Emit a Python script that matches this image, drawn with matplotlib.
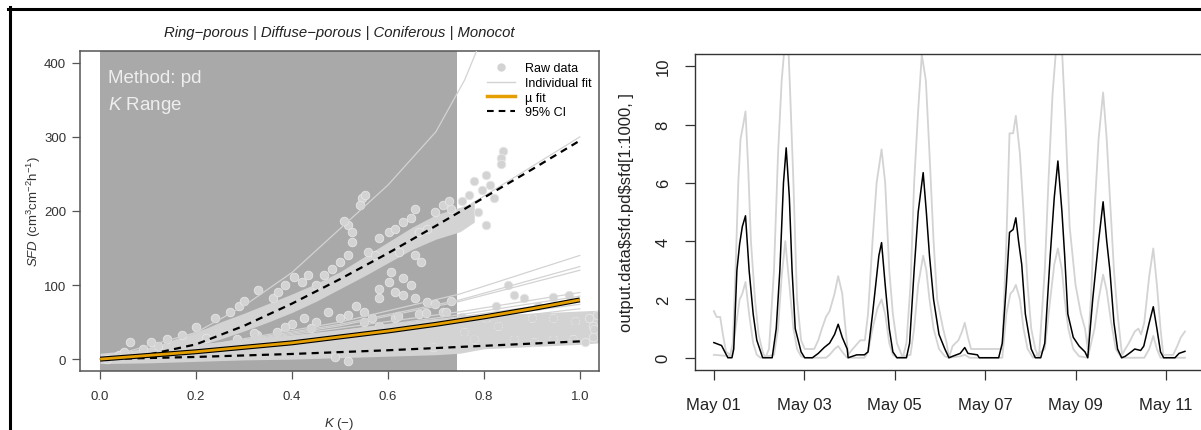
import numpy as np
import matplotlib
matplotlib.use("Agg")
import matplotlib.pyplot as plt
import matplotlib.dates as mdates
from matplotlib.lines import Line2D

plt.rcParams['font.family'] = ['Liberation Sans', 'DejaVu Sans']
plt.rcParams['mathtext.fontset'] = 'custom'
plt.rcParams['mathtext.rm'] = 'Liberation Sans'
plt.rcParams['mathtext.it'] = 'Liberation Sans:italic'

# ---------------- left panel data ----------------
title_text = "Ring\u2212porous | Diffuse\u2212porous | Coniferous | Monocot"
k_range_end = 0.745

# dense raw-data bands (edges)
lb_K = [0, 0.1, 0.2, 0.3, 0.4, 0.5, 0.6, 0.7, 0.75, 0.8, 0.9, 1.0, 1.04]
lb_lo = [-6, -5, -3, -1, 0, 2, 4, 6, 8, 14, 17, 20, 22]
lb_hi = [8, 14, 20, 27, 33, 40, 48, 55, 58, 60, 62, 65, 66]

ub_K = [0.03, 0.1, 0.15, 0.2, 0.25, 0.3, 0.35, 0.4, 0.45, 0.5, 0.55, 0.6, 0.65, 0.7, 0.75, 0.78]
ub_lo = [0, 4, 10, 17, 27, 38, 50, 63, 78, 95, 112, 130, 148, 162, 172, 185]
ub_hi = [6, 16, 25, 36, 50, 62, 75, 88, 102, 118, 138, 158, 178, 195, 205, 212]

# individual raw points
raw_K = [0.014, 0.04, 0.063, 0.105, 0.14, 0.17, 0.2, 0.24, 0.27, 0.29, 0.30, 0.33,
         0.36, 0.37, 0.385, 0.405, 0.42, 0.434, 0.45, 0.467, 0.483, 0.5, 0.516, 0.525,
         0.516, 0.525, 0.508, 0.545, 0.553, 0.541, 0.558, 0.574, 0.582, 0.603, 0.615,
         0.632, 0.648, 0.657, 0.665, 0.681, 0.698, 0.714, 0.727, 0.731, 0.755, 0.768,
         0.78, 0.805, 0.797, 0.813, 0.821, 0.84, 0.836, 0.836, 0.788, 0.805,
         0.582, 0.603, 0.607, 0.582, 0.615, 0.632, 0.657, 0.681, 0.698, 0.731, 0.648,
         0.632, 0.624, 0.669, 0.657, 0.533, 0.55, 0.516, 0.566, 0.582, 0.615, 0.665,
         0.714, 0.755, 0.475, 0.5, 0.45, 0.426, 0.401, 0.385, 0.368, 0.327, 0.286,
         0.694, 0.49, 0.516,
         0.83, 0.85, 0.862, 0.883, 0.912, 0.945, 0.978, 0.825, 0.805, 0.759, 0.78,
         0.862, 0.904, 0.945, 0.986, 1.01, 1.027, 1.035, 1.02, 1.027, 1.03, 0.9,
         0.945, 0.99, 0.12, 0.22, 0.32, 0.44, 0.55, 0.62, 0.68, 0.72, 0.05, 0.09]
raw_SFD = [0, 5, 23, 23, 27, 32, 43, 55, 64, 72, 79, 94,
           82, 90, 100, 111, 104, 113, 100, 113, 122, 131, 140, 158,
           181, 172, 187, 217, 221, 208, 145, 140, 163, 172, 176,
           185, 190, 203, 172, 176, 199, 208, 214, 203, 214, 221,
           241, 248, 228, 235, 217, 281, 271, 264, 199, 181,
           95, 104, 118, 82, 90, 86, 82, 77, 75, 79, 100,
           109, 145, 131, 140, 72, 64, 59, 55, 45, 55, 61,
           64, 57, 64, 55, 50, 55, 48, 43, 36, 32, 27,
           16, 3, -2,
           45, 100, 86, 82, 72, 84, 86, 72, 55, 36, 27,
           27, 23, 27, 27, 23, 30, 59, 55, 45, 41, 55,
           55, 52, 18, 28, 35, 42, 50, 58, 62, 64, 10, 14]

# individual fits
fit_K = [0, 0.25, 0.5, 0.75, 1.0]
fit_curves = [
    [0, 4, 9, 15, 22],
    [0, 5, 11, 18, 26],
    [0, 6, 13, 21, 30],
    [0, 7, 15, 24, 34],
    [0, 8, 17, 27, 38],
    [0, 9, 19, 30, 42],
    [0, 10, 21, 33, 46],
    [0, 11, 23, 36, 50],
    [0, 12, 25, 39, 54],
    [0, 13, 27, 42, 58],
    [0, 14, 29, 45, 62],
    [0, 15, 31, 49, 68],
    [0, 16, 34, 53, 74],
    [0, 17, 36, 57, 80],
    [0, 18, 38, 60, 85],
    [0, 20, 42, 64, 90],
    [0, 20, 45, 78, 120],
    [0, 21, 47, 80, 125],
    [0, 22, 50, 88, 140],
    [0, 45, 112, 200, 300],
]
steep_K = [0, 0.1, 0.2, 0.3, 0.4, 0.5, 0.6, 0.7, 0.76, 0.8]
steep_SFD = [0, 12, 36, 72, 117, 176, 235, 307, 377, 440]

# mean fit and CI
mu_K = [0, 0.1, 0.2, 0.3, 0.4, 0.5, 0.6, 0.7, 0.8, 0.9, 1.0]
mu_SFD = [0, 5, 10, 16, 22, 30, 38, 47, 57, 68, 80]
ci_hi = [0, 6, 20, 45, 75, 108, 143, 180, 218, 256, 295]
ci_lo = [0, 1.5, 3, 5, 7, 9.5, 12, 15, 18, 21, 24]

# ---------------- right panel data ----------------
black_days = [0.00, 0.17, 0.31, 0.40, 0.44, 0.51, 0.57, 0.63, 0.70, 0.78, 0.87, 0.95, 1.08,
              1.29, 1.38, 1.46, 1.54, 1.60, 1.67, 1.73, 1.80, 1.93, 2.01,
              2.18, 2.31, 2.44, 2.56, 2.67, 2.75, 2.84, 2.95, 2.97,
              3.16, 3.33, 3.41, 3.51, 3.58, 3.65, 3.71, 3.79, 3.88, 3.96, 4.05,
              4.26, 4.33, 4.43, 4.52, 4.63, 4.70, 4.77, 4.86, 4.98, 5.11, 5.20,
              5.28, 5.45, 5.55, 5.62, 5.83, 5.87,
              6.30, 6.38, 6.47, 6.54, 6.62, 6.68, 6.74, 6.81, 6.89, 7.02, 7.11,
              7.23, 7.32, 7.44, 7.53, 7.61, 7.70, 7.76, 7.83, 7.95, 8.08, 8.21, 8.27,
              8.38, 8.51, 8.61, 8.69, 8.76, 8.85, 8.93, 9.02,
              9.10, 9.23, 9.31, 9.44, 9.51, 9.63, 9.72, 9.80, 9.88, 9.95,
              10.20, 10.29, 10.42]
black_sfd = [0.52, 0.42, 0.0, 0.0, 0.3, 3.0, 3.9, 4.5, 4.87, 3.0, 1.5, 0.6, 0.0,
             0.0, 1.0, 3.0, 6.0, 7.2, 5.5, 3.0, 1.0, 0.2, 0.0,
             0.0, 0.15, 0.35, 0.5, 0.8, 1.15, 0.7, 0.3, 0.0,
             0.1, 0.1, 0.2, 1.5, 2.5, 3.5, 3.95, 2.5, 1.0, 0.2, 0.0,
             0.0, 0.5, 3.0, 5.0, 6.35, 5.0, 3.5, 2.0, 0.8, 0.3, 0.0,
             0.05, 0.15, 0.35, 0.15, 0.1, 0.0,
             0.0, 0.5, 2.5, 4.3, 4.4, 4.8, 4.0, 3.2, 1.5, 0.3, 0.0,
             0.0, 0.5, 3.5, 5.5, 6.75, 5.0, 3.5, 1.5, 0.7, 0.4, 0.2, 0.0,
             2.0, 4.0, 5.35, 4.0, 3.0, 1.2, 0.3, 0.0,
             0.05, 0.2, 0.3, 0.25, 0.4, 1.2, 1.75, 1.0, 0.2, 0.0,
             0.0, 0.15, 0.22]

upper_days = [0.00, 0.06, 0.14, 0.20, 0.27, 0.36, 0.42, 0.48, 0.54, 0.59, 0.65, 0.70, 0.76,
              0.82, 0.91, 0.99, 1.08, 1.14, 1.22, 1.33, 1.42, 1.50, 1.56, 1.65, 1.69,
              1.76, 1.84, 1.93, 2.01, 2.22, 2.31, 2.39, 2.48, 2.56, 2.67, 2.75, 2.84,
              2.90, 2.97, 3.07, 3.24, 3.34, 3.41, 3.51, 3.60, 3.71, 3.79, 3.88, 3.96,
              4.05, 4.18, 4.26, 4.35, 4.43, 4.52, 4.60, 4.69, 4.77, 4.86, 4.94, 5.07,
              5.15, 5.20, 5.28, 5.41, 5.49, 5.55, 5.62, 5.69, 6.38, 6.47, 6.54, 6.62,
              6.68, 6.77, 6.85, 6.94, 7.02, 7.11, 7.19, 7.32, 7.40, 7.49, 7.57, 7.70,
              7.78, 7.87, 8.00, 8.12, 8.21, 8.27, 8.34, 8.42, 8.51, 8.61, 8.69, 8.76,
              8.85, 8.93, 9.00, 9.03, 9.10, 9.18, 9.31, 9.39, 9.45, 9.52, 9.63, 9.72,
              9.80, 9.88, 9.94, 10.16, 10.25, 10.33, 10.42]
upper_sfd = [1.6, 1.4, 1.4, 0.8, 0.2, 0.1, 0.5, 3.0, 6.0, 7.5, 8.0, 8.45, 6.5,
             4.0, 2.0, 0.8, 0.2, 0.0, 0.3, 3.0, 7.0, 9.5, 10.6, 10.6, 9.0,
             6.0, 2.0, 0.6, 0.3, 0.3, 0.6, 1.0, 1.4, 1.6, 2.2, 2.8, 2.2,
             1.2, 0.1, 0.3, 0.6, 0.6, 1.5, 4.0, 6.0, 7.15, 6.0, 3.0, 1.5,
             0.5, 0.0, 0.5, 2.5, 6.0, 8.5, 10.4, 9.5, 7.0, 4.0, 2.0, 1.0,
             0.5, 0.0, 0.4, 0.6, 0.9, 1.2, 0.7, 0.3, 0.3, 4.0, 7.7, 7.7,
             8.3, 7.0, 5.0, 2.5, 1.0, 0.3, 0.0, 3.0, 6.0, 9.0, 10.6, 10.6,
             8.0, 4.5, 2.5, 1.5, 1.0, 0.3, 2.0, 5.0, 7.5, 9.1, 7.5, 5.5,
             3.0, 1.5, 0.5, 0.1, 0.3, 0.5, 0.9, 1.0, 0.8, 1.2, 2.8, 3.75,
             2.5, 1.0, 0.1, 0.1, 0.4, 0.7, 0.9]

lower_days = [0.00, 0.40, 0.48, 0.57, 0.63, 0.70, 0.78, 0.87, 0.95, 1.03,
              1.33, 1.42, 1.50, 1.58, 1.67, 1.76, 1.84, 1.93, 2.01,
              2.48, 2.56, 2.67, 2.75, 2.84, 2.95,
              3.33, 3.41, 3.51, 3.62, 3.71, 3.79, 3.88, 3.96, 4.05,
              4.35, 4.43, 4.52, 4.63, 4.70, 4.77, 4.86, 4.98, 5.11, 5.20,
              5.45, 5.55, 5.66,
              6.38, 6.47, 6.56, 6.62, 6.68, 6.77, 6.85, 6.94, 7.06,
              7.32, 7.44, 7.53, 7.61, 7.70, 7.76, 7.84, 7.95, 8.08, 8.27,
              8.42, 8.51, 8.61, 8.69, 8.78, 8.89, 9.02,
              9.52, 9.63, 9.72, 9.80, 9.88, 10.42]
lower_sfd = [0.1, 0.05, 1.0, 2.0, 2.2, 2.6, 1.5, 0.5, 0.1, 0.0,
             0.1, 1.0, 2.8, 4.0, 2.5, 1.0, 0.3, 0.05, 0.0,
             0.0, 0.1, 0.3, 0.4, 0.2, 0.0,
             0.0, 0.2, 1.0, 1.7, 2.0, 1.5, 0.5, 0.1, 0.0,
             0.1, 1.0, 2.5, 3.5, 3.0, 2.0, 1.0, 0.3, 0.05, 0.0,
             0.05, 0.1, 0.0,
             0.0, 1.5, 2.2, 2.3, 2.5, 2.0, 1.0, 0.3, 0.0,
             0.3, 2.0, 3.2, 3.75, 3.0, 2.0, 1.0, 0.3, 0.05, 0.0,
             1.0, 2.0, 2.85, 2.3, 1.3, 0.3, 0.0,
             0.0, 0.3, 0.75, 0.3, 0.0, 0.0]

start_date = np.datetime64('2019-05-01T00:00')
tick_days = [0, 2, 4, 6, 8, 10]
tick_labels = ["May 01", "May 03", "May 05", "May 07", "May 09", "May 11"]
right_ylabel = "output.data$sfd.pd$sfd[1:1000, ]"

# ---------------- figure ----------------
W, H = 1201, 431
fig = plt.figure(figsize=(W / 100, H / 100), dpi=100)

LG = '#d3d3d3'

# left axes
axL = fig.add_axes([80 / W, 1 - 372 / H, 519 / W, 320 / H])
axL.set_xlim(-0.042, 1.04)
axL.set_ylim(-16, 416)
axL.axvspan(0, k_range_end, color='#a9a9a9', lw=0, zorder=0)

axL.fill_between(lb_K, lb_lo, lb_hi, color=LG, lw=0, zorder=1)
axL.fill_between(ub_K, ub_lo, ub_hi, color=LG, lw=0, zorder=1)
axL.scatter(raw_K, raw_SFD, s=38, color=LG, edgecolors='#e6e6e6', linewidths=0.6, zorder=2)

for c in fit_curves:
    axL.plot(fit_K, c, color=LG, lw=0.9, zorder=3)
axL.plot(steep_K, steep_SFD, color=LG, lw=0.9, zorder=3)

axL.plot(mu_K, ci_hi, color='black', lw=1.6, dashes=(3.2, 2.4), zorder=4)
axL.plot(mu_K, ci_lo, color='black', lw=1.6, dashes=(3.2, 2.4), zorder=4)
axL.plot(mu_K, mu_SFD, color='black', lw=3.6, zorder=5, solid_capstyle='butt')
axL.plot(mu_K, mu_SFD, color='#E69F00', lw=2.0, zorder=6, solid_capstyle='butt')

axL.set_xticks([0, 0.2, 0.4, 0.6, 0.8, 1.0])
axL.set_xticklabels(["0.0", "0.2", "0.4", "0.6", "0.8", "1.0"])
axL.set_yticks([0, 100, 200, 300, 400])
axL.tick_params(axis='both', direction='out', length=6, width=0.9, color='#555555',
                labelsize=9.5, labelcolor='#333333')
axL.tick_params(axis='x', pad=8)
axL.tick_params(axis='y', pad=4)
for s in axL.spines.values():
    s.set_color('#555555')
    s.set_linewidth(1.1)

axL.text(0.054, 0.903, "Method: pd", transform=axL.transAxes, color='#eeeeee',
         fontsize=13.5, va='baseline', ha='left', zorder=7)
axL.text(0.054, 0.819, "$K$ Range", transform=axL.transAxes, color='#eeeeee',
         fontsize=13.5, va='baseline', ha='left', zorder=7)
axL.text(0.5, 1.059, title_text, transform=axL.transAxes, fontsize=10.7, style='italic',
         ha='center', va='center', color='#222222')
axL.text(0.5, -0.1625, "$K$ (\u2212)", transform=axL.transAxes, fontsize=9.5,
         ha='center', va='center', color='#333333')
axL.text(-0.0886, 0.5, "$SFD$ (cm$^{3}$cm$^{-2}$h$^{-1}$)", transform=axL.transAxes,
         fontsize=9.5, rotation=90, ha='center', va='center', color='#333333')

handles = [
    Line2D([], [], marker='o', ls='none', color=LG, markersize=5),
    Line2D([], [], color=LG, lw=1.0),
    Line2D([], [], color='#E69F00', lw=2.5),
    Line2D([], [], color='black', lw=1.5, dashes=(3.2, 2.4)),
]
labels = ["Raw data", "Individual fit", "\u00b5 fit", "95% CI"]
axL.legend(handles, labels, loc='upper left', bbox_to_anchor=(0.785, 0.965),
           frameon=False, fontsize=9, handlelength=2.2, handletextpad=0.8,
           labelspacing=0.22, borderpad=0.0, borderaxespad=0.0)

# right axes
axR = fig.add_axes([695 / W, 1 - 371 / H, 508.6 / W, 316 / H])
base = mdates.date2num(start_date)
axR.plot(base + np.array(upper_days), upper_sfd, color=LG, lw=1.3, zorder=2)
axR.plot(base + np.array(lower_days), lower_sfd, color=LG, lw=1.3, zorder=2)
axR.plot(base + np.array(black_days), black_sfd, color='black', lw=1.1, zorder=3)
axR.set_xlim(base - 0.417, base + 10.833)
axR.set_ylim(-0.42, 10.42)
axR.set_xticks(base + np.array(tick_days))
axR.set_xticklabels(tick_labels)
axR.set_yticks([0, 2, 4, 6, 8, 10])
axR.set_yticklabels(["0", "2", "4", "6", "8", "10"], rotation=90, va='center')
axR.tick_params(axis='both', direction='out', length=7.5, width=0.9, color='#333333',
                labelsize=12, labelcolor='#222222')
axR.tick_params(axis='x', pad=12)
axR.tick_params(axis='y', pad=10)
for s in axR.spines.values():
    s.set_color('#333333')
    s.set_linewidth(1.0)
axR.text(-0.134, 0.5, right_ylabel, transform=axR.transAxes, parse_math=False,
         fontsize=12, rotation=90, ha='center', va='center', color='#222222')

# outer frame lines
fig.add_artist(Line2D([8 / W, 1.0], [1 - 9.5 / H, 1 - 9.5 / H], color='black',
                      lw=2.2, transform=fig.transFigure))
fig.add_artist(Line2D([9.5 / W, 9.5 / W], [1 - 8 / H, 0], color='black',
                      lw=2.2, transform=fig.transFigure))

fig.savefig("out.png", dpi=100)
